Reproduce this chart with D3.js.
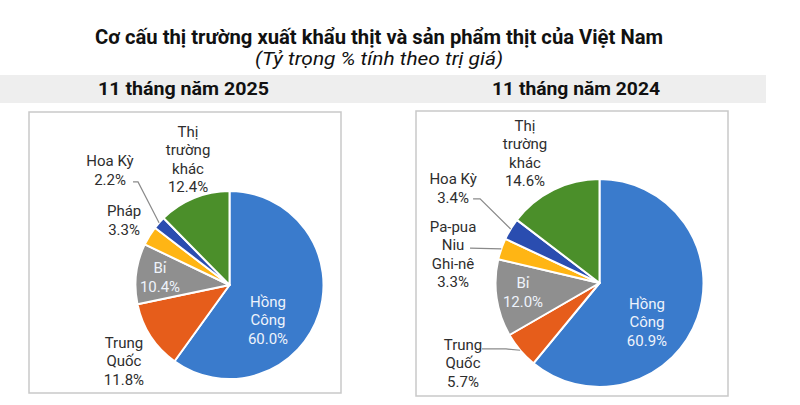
<!DOCTYPE html>
<html lang="vi">
<head>
<meta charset="utf-8">
<script src="https://cdn.jsdelivr.net/npm/d3@7/dist/d3.min.js"></script>
<style>
  html, body { margin: 0; padding: 0; background: #ffffff; }
  svg { display: block; }
  text { font-family: Roboto, "Noto Sans", "DejaVu Sans", sans-serif; }
</style>
</head>
<body>
<svg id="chart" width="800" height="405"></svg>
<script>
// Market shares of Vietnam's meat and meat-product exports (% of value)
const title = "Cơ cấu thị trường xuất khẩu thịt và sản phẩm thịt của Việt Nam";
const subtitle = "(Tỷ trọng % tính theo trị giá)";

const panelTitles = ["11 tháng năm 2025", "11 tháng năm 2024"];

const categories2025 = ["Hồng Công", "Trung Quốc", "Bỉ", "Pháp", "Hoa Kỳ", "Thị trường khác"];
const values2025 = [60.0, 11.8, 10.4, 3.3, 2.2, 12.4];
const labelLines2025 = [["Hồng", "Công"], ["Trung", "Quốc"], ["Bỉ"], ["Pháp"], ["Hoa Kỳ"], ["Thị", "trường", "khác"]];

const categories2024 = ["Hồng Công", "Trung Quốc", "Bỉ", "Pa-pua Niu Ghi-nê", "Hoa Kỳ", "Thị trường khác"];
const values2024 = [60.9, 5.7, 12.0, 3.3, 3.4, 14.6];
const labelLines2024 = [["Hồng", "Công"], ["Trung", "Quốc"], ["Bỉ"], ["Pa-pua", "Niu", "Ghi-nê"], ["Hoa Kỳ"], ["Thị", "trường", "khác"]];

const sliceColors = ["#3a7bcc", "#e65d1b", "#8f8f8f", "#ffb514", "#2a4db0", "#4b8f2a"];

const svg = d3.select("#chart");

// Heading
svg.append("text")
  .attr("x", 379).attr("y", 44)
  .attr("text-anchor", "middle")
  .attr("font-size", 20.5).attr("font-weight", 700)
  .attr("fill", "#111")
  .attr("textLength", 568).attr("lengthAdjust", "spacingAndGlyphs")
  .text(title);

svg.append("text")
  .attr("x", 379).attr("y", 65)
  .attr("text-anchor", "middle")
  .attr("font-size", 18.5).attr("font-style", "italic")
  .attr("fill", "#111")
  .attr("textLength", 248).attr("lengthAdjust", "spacingAndGlyphs")
  .text(subtitle);

// Grey header band
svg.append("rect")
  .attr("x", 0).attr("y", 75).attr("width", 766).attr("height", 28)
  .attr("fill", "#eeeeee");

// Panel layout
const panels = [
  {
    head: panelTitles[0], headX: 183.5, headLen: 171,
    box: [29, 112, 312, 281],
    cx: 229.5, cy: 285, r: 94,
    categories: categories2025, values: values2025, lines: labelLines2025,
    // per-slice label placement: radius factor, nudge, text colour, leader
    place: [
      { k: 0.55, dx: -10.7, dy: 19, inside: true },
      { k: 1.25, dx: -7, dy: 12 },
      { k: 0.7, dx: -4.2, dy: 0, inside: true },
      { k: 1.25, dx: -5.3, dy: -3.6 },
      { k: 1.25, dx: -31.4, dy: -37.3, leader: { sx: 23, sy: 12, ex: 5 } },
      { k: 1.25, dx: 3.1, dy: -17.3 }
    ]
  },
  {
    head: panelTitles[1], headX: 576, headLen: 168,
    box: [416, 111, 312, 285],
    cx: 599.5, cy: 283, r: 104,
    categories: categories2024, values: values2024, lines: labelLines2024,
    place: [
      { k: 0.55, dx: -6.4, dy: 19.7, inside: true },
      { k: 1.25, dx: -37.3, dy: -4.1, leader: { sx: 19, sy: -14, ex: 24 } },
      { k: 0.7, dx: -4.5, dy: -1.6, inside: true },
      { k: 1.25, dx: -23.7, dy: 13.8, leader: { sx: 17, sy: -6, ex: 0 } },
      { k: 1.25, dx: -35.3, dy: -27.7, leader: { sx: 20, sy: 11, ex: 7 } },
      { k: 1.25, dx: -16.9, dy: -13.5 }
    ]
  }
];

const pie = d3.pie().sort(null).value(d => d);
const fmt = d3.format(".1f");
const lineH = 18.5;

panels.forEach(p => {
  svg.append("text")
    .attr("x", p.headX).attr("y", 95)
    .attr("text-anchor", "middle")
    .attr("font-size", 19).attr("font-weight", 700)
    .attr("fill", "#111")
    .attr("textLength", p.headLen).attr("lengthAdjust", "spacingAndGlyphs")
    .text(p.head);

  svg.append("rect")
    .attr("x", p.box[0]).attr("y", p.box[1])
    .attr("width", p.box[2]).attr("height", p.box[3])
    .attr("fill", "#fff")
    .attr("stroke", "#c9c9c9").attr("stroke-width", 1.5);

  const g = svg.append("g").attr("transform", `translate(${p.cx},${p.cy})`);
  const arcs = pie(p.values);
  const arc = d3.arc().innerRadius(0).outerRadius(p.r);

  g.selectAll("path.slice")
    .data(arcs)
    .join("path")
    .attr("class", "slice")
    .attr("d", arc)
    .attr("fill", (d, i) => sliceColors[i])
    .attr("stroke", "#fff")
    .attr("stroke-width", 2)
    .attr("stroke-linejoin", "round");

  arcs.forEach((a, i) => {
    const pl = p.place[i];
    const mid = (a.startAngle + a.endAngle) / 2;
    const d = pl.k * p.r;
    const lx = d * Math.sin(mid) + pl.dx;
    const ly = -d * Math.cos(mid) + pl.dy;
    const rows = p.lines[i].concat([fmt(a.data) + "%"]);
    const top = ly - (rows.length - 1) * lineH / 2;

    const t = g.append("text")
      .attr("text-anchor", "middle")
      .attr("font-size", 15)
      .attr("fill", pl.inside ? "#eef3fb" : "#2e2e2e");
    rows.forEach((row, j) => {
      t.append("tspan")
        .attr("x", lx)
        .attr("y", top + j * lineH)
        .attr("dy", "0.36em")
        .text(row);
    });

    if (pl.leader) {
      const sx = lx + pl.leader.sx, sy = ly + pl.leader.sy;
      const ex = sx + pl.leader.ex;
      const tx = p.r * Math.sin(mid), ty = -p.r * Math.cos(mid);
      g.append("path")
        .attr("d", d3.line()([[sx, sy], [ex, sy], [tx, ty]]))
        .attr("fill", "none")
        .attr("stroke", "#8a8a8a")
        .attr("stroke-width", 1.2);
    }
  });
});
</script>
</body>
</html>
